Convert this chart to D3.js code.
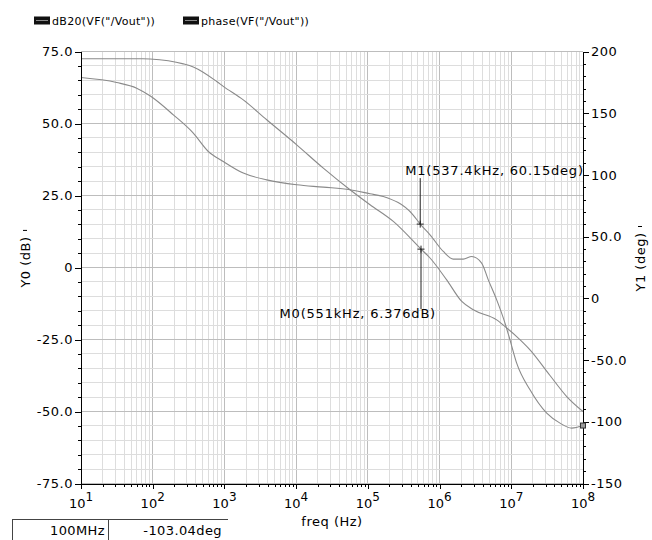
<!DOCTYPE html>
<html>
<head>
<meta charset="utf-8">
<script src="https://cdn.jsdelivr.net/npm/d3@7"></script>
<style>
body { margin: 0; background: #fff; }
text { font-family: "DejaVu Sans", sans-serif; fill: #000; }
</style>
</head>
<body>
<svg id="bode" width="652" height="540"></svg>
<script>
var svg = d3.select("#bode")
// note: "top" is taken by window.top, so use plot* names
var plotLeft = 81, plotRight = 583, plotTop = 51.5, plotBottom = 483.5

// Data
var freqDb = [10, 73, 92, 267, 368, 780, 964, 1832, 3884, 10180, 23930, 56400, 107200, 226500,
  551000, 736000, 1257000, 2040000, 2950000, 6260000, 8630000, 11890000, 18240000, 34670000, 59300000, 1e8]
var gainDb = [72.5, 72.5, 72.4, 70.7, 69.6, 64.6, 62.9, 58.2, 51.3, 42.6, 34.5, 27.0, 21.8, 16.0,
  6.4, 3.3, -4.3, -11.8, -14.7, -18.2, -21.0, -24.0, -28.6, -37.5, -44.8, -50.0]
var freqPh = [10, 31.4, 59.8, 91.6, 194, 368, 596, 964, 1832, 3884, 10180, 23930, 56400, 107200, 164200,
  426000, 537400, 736000, 1127000, 1553000, 2140000, 2810000, 3860000, 4780000, 6260000, 8170000,
  9590000, 11890000, 18240000, 31200000, 47800000, 69500000, 1e8]
var phaseDeg = [178.9, 174.9, 170.3, 164.1, 148.7, 133.9, 119.0, 110.9, 101.5, 96.0, 92.0, 90.1, 88.0, 84.7, 82.5,
  67.7, 60.15, 51.5, 38.0, 31.8, 31.8, 33.9, 28.6, 15.0, -1.2, -20.0,
  -33.6, -52.5, -74.1, -93.0, -101.1, -105.1, -103.04]

var dbTicks = [75, 50, 25, 0, -25, -50, -75]
var dbTickLabels = ["75.0", "50.0", "25.0", "0", "-25.0", "-50.0", "-75.0"]
var degTicks = [200, 150, 100, 50, 0, -50, -100, -150]
var degTickLabels = ["200", "150", "100", "50.0", "0", "-50.0", "-100", "-150"]
var decades = [1e1, 1e2, 1e3, 1e4, 1e5, 1e6, 1e7, 1e8]
var decadeExp = ["1", "2", "3", "4", "5", "6", "7", "8"]
var legendNames = ['dB20(VF("/Vout"))', 'phase(VF("/Vout"))']
var markers = [
  {axis: "db", f: 551000, v: 6.376, label: "M0(551kHz, 6.376dB)"},
  {axis: "deg", f: 537400, v: 60.15, label: "M1(537.4kHz, 60.15deg)"}
]
var cursorFreq = 1e8, cursorPhase = -103.04
var cursorTexts = ["100MHz", "-103.04deg"]

// Scales
var x = d3.scaleLog().domain([10, 1e8]).range([plotLeft, plotRight])
var yDb = d3.scaleLinear().domain([-75, 75]).range([plotBottom, plotTop])
var yDeg = d3.scaleLinear().domain([-150, 200]).range([plotBottom, plotTop])

function isDecade(d) { var l = Math.log10(d); return Math.abs(l - Math.round(l)) < 1e-9 }

// Grid
var grid = svg.append("g").attr("shape-rendering", "crispEdges")
grid.selectAll("vline").data(x.ticks()).enter().append("line")
  .attr("x1", d => x(d)).attr("x2", d => x(d)).attr("y1", plotTop).attr("y2", plotBottom)
  .attr("stroke", d => isDecade(d) ? "#bdbdbd" : "#dddddd")
grid.selectAll("hline").data(yDb.ticks(30)).enter().append("line")
  .attr("x1", plotLeft).attr("x2", plotRight).attr("y1", d => yDb(d)).attr("y2", d => yDb(d))
  .attr("stroke", d => d % 25 === 0 ? "#bdbdbd" : "#dddddd")

// Curves
var dbLine = d3.line().x((d, i) => x(freqDb[i])).y(d => yDb(d)).curve(d3.curveMonotoneX)
var phLine = d3.line().x((d, i) => x(freqPh[i])).y(d => yDeg(d)).curve(d3.curveMonotoneX)
svg.append("path").attr("d", dbLine(gainDb)).attr("fill", "none").attr("stroke", "#8a8a8a").attr("stroke-width", 1.1)
svg.append("path").attr("d", phLine(phaseDeg)).attr("fill", "none").attr("stroke", "#8a8a8a").attr("stroke-width", 1.1)

// Axes
function styleAxis(g) {
  g.selectAll("text").attr("font-size", 13).attr("letter-spacing", 0.5).attr("fill", "#000")
  g.selectAll("line, path").attr("stroke", "#000")
  g.attr("shape-rendering", "crispEdges")
}
svg.append("g").attr("transform", `translate(${plotLeft},0)`)
  .call(d3.axisLeft(yDb).tickValues(yDb.ticks(30).filter(d => d % 25 !== 0)).tickSize(3).tickFormat(""))
  .call(g => g.select(".domain").remove()).call(styleAxis)
svg.append("g").attr("transform", `translate(${plotLeft},0)`)
  .call(d3.axisLeft(yDb).tickValues(dbTicks).tickSize(6).tickSizeOuter(0).tickPadding(2)
    .tickFormat((d, i) => dbTickLabels[i]))
  .call(styleAxis)

svg.append("g").attr("transform", `translate(${plotRight},0)`)
  .call(d3.axisRight(yDeg).tickValues(yDeg.ticks(35).filter(d => d % 50 !== 0)).tickSize(3).tickFormat(""))
  .call(g => g.select(".domain").remove()).call(styleAxis)
svg.append("g").attr("transform", `translate(${plotRight},0)`)
  .call(d3.axisRight(yDeg).tickValues(degTicks).tickSize(6).tickSizeOuter(0).tickPadding(2)
    .tickFormat((d, i) => degTickLabels[i]))
  .call(styleAxis)

svg.append("g").attr("transform", `translate(0,${plotBottom})`)
  .call(d3.axisBottom(x).tickValues(x.ticks().filter(d => !isDecade(d))).tickSize(3).tickFormat(""))
  .call(g => g.select(".domain").remove()).call(styleAxis)
svg.append("g").attr("transform", `translate(0,${plotBottom})`)
  .call(d3.axisBottom(x).tickValues(decades).tickSize(5).tickSizeOuter(0).tickFormat(""))
  .call(styleAxis)

var xLabels = svg.append("g").selectAll("text").data(decades).enter().append("text")
  .attr("x", d => x(d)).attr("y", plotBottom + 24).attr("text-anchor", "middle").attr("font-size", 13)
xLabels.append("tspan").text("10")
xLabels.append("tspan").attr("dy", -7).attr("font-size", 12).text((d, i) => decadeExp[i])

// Axis titles
svg.append("text").attr("x", 332).attr("y", 526).attr("text-anchor", "middle")
  .attr("font-size", 13).attr("letter-spacing", 0.5).text("freq (Hz)")

function sideTitle(cx, cy, label) {
  var g = svg.append("g").attr("transform", `translate(${cx},${cy}) rotate(-90)`)
  var t = g.append("text").attr("text-anchor", "middle").attr("font-size", 13)
    .attr("letter-spacing", 0.5).text(label)
  var w = t.node().getComputedTextLength()
  g.append("line").attr("x1", w / 2 + 6).attr("x2", w / 2 + 6).attr("y1", -3).attr("y2", -7)
    .attr("stroke", "#000")
}
sideTitle(30, 262, "Y0 (dB)")
sideTitle(645, 262, "Y1 (deg)")

// Legend
var legendX = [34, 183]
legendNames.forEach(function(name, i) {
  svg.append("rect").attr("x", legendX[i]).attr("y", 16.5).attr("width", 16).attr("height", 8).attr("fill", "#111")
  svg.append("line").attr("x1", legendX[i] + 2).attr("x2", legendX[i] + 14).attr("y1", 20.5).attr("y2", 20.5)
    .attr("stroke", "#888")
  svg.append("text").attr("x", legendX[i] + 18).attr("y", 25).attr("font-size", 11)
    .attr("letter-spacing", 0.3).text(name)
})

// Markers
markers.forEach(function(m) {
  var mx = x(m.f), my = m.axis === "db" ? yDb(m.v) : yDeg(m.v)
  var g = svg.append("g").attr("stroke", "#222")
  g.append("line").attr("x1", mx - 3.5).attr("x2", mx + 3.5).attr("y1", my).attr("y2", my)
  g.append("line").attr("x1", mx).attr("x2", mx).attr("y1", my - 3.5).attr("y2", my + 3.5)
  if (m.axis === "db") {
    g.append("line").attr("x1", mx).attr("x2", mx).attr("y1", my).attr("y2", my + 60)
    svg.append("text").attr("x", mx + 15).attr("y", my + 69).attr("text-anchor", "end")
      .attr("font-size", 13).attr("letter-spacing", 0.8).text(m.label)
  } else {
    g.append("line").attr("x1", mx).attr("x2", mx).attr("y1", my - 46).attr("y2", my)
    svg.append("text").attr("x", mx - 15).attr("y", my - 49)
      .attr("font-size", 13).attr("letter-spacing", 0.8).text(m.label)
  }
})

// Cursor point at the right end
svg.append("rect").attr("x", x(cursorFreq) - 2.5).attr("y", yDeg(cursorPhase) - 2.5)
  .attr("width", 5).attr("height", 5).attr("fill", "#999").attr("stroke", "#333")

// Cursor readout box
var box = svg.append("g").attr("stroke", "#444").attr("shape-rendering", "crispEdges")
box.append("line").attr("x1", 12).attr("x2", 228).attr("y1", 519.5).attr("y2", 519.5)
box.append("line").attr("x1", 12.5).attr("x2", 12.5).attr("y1", 519.5).attr("y2", 540)
box.append("line").attr("x1", 108.5).attr("x2", 108.5).attr("y1", 519.5).attr("y2", 540)
svg.append("text").attr("x", 105).attr("y", 535).attr("text-anchor", "end").attr("font-size", 13)
  .attr("letter-spacing", 0.4).text(cursorTexts[0])
svg.append("text").attr("x", 222).attr("y", 535).attr("text-anchor", "end").attr("font-size", 13)
  .attr("letter-spacing", 0.4).text(cursorTexts[1])
</script>
</body>
</html>
